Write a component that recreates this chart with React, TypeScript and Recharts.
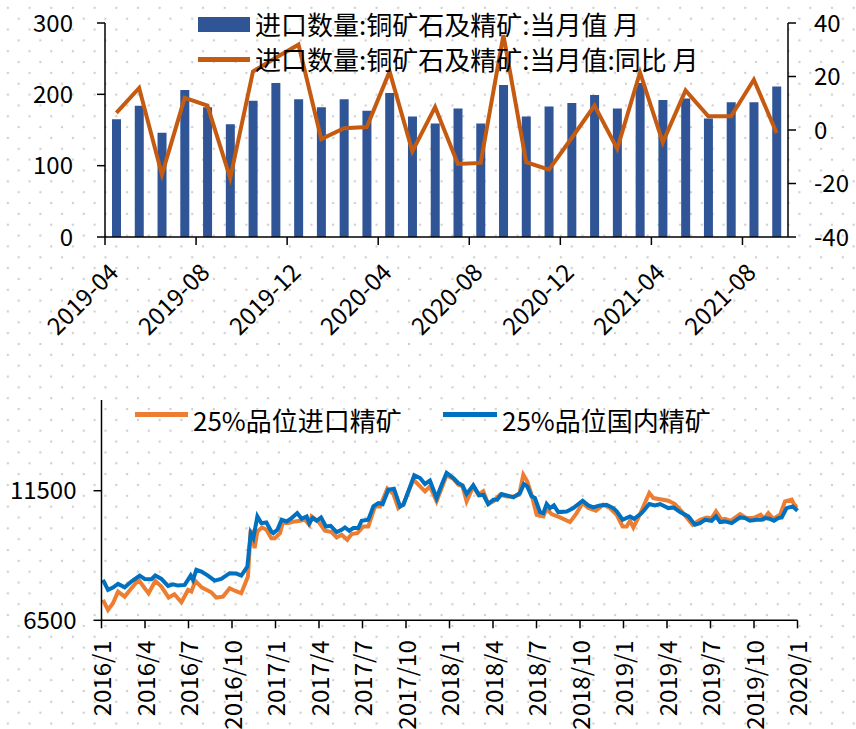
import React from 'react';
import { ComposedChart, LineChart, Bar, Line, XAxis, YAxis } from 'recharts';

const FONT = '"Noto Sans CJK SC", "Noto Sans", sans-serif';
const INK = '#000';
const BAR_BLUE = '#2F5597';
const YOY_ORANGE = '#C55A11';
const IMPORT_ORANGE = '#ED7D31';
const DOMESTIC_BLUE = '#0070C0';

// 上图：进口数量:铜矿石及精矿（万吨 / 同比 %）
const months = [
  '2019-04', '2019-05', '2019-06', '2019-07', '2019-08', '2019-09', '2019-10', '2019-11', '2019-12', '2020-01',
  '2020-02', '2020-03', '2020-04', '2020-05', '2020-06', '2020-07', '2020-08', '2020-09', '2020-10', '2020-11',
  '2020-12', '2021-01', '2021-02', '2021-03', '2021-04', '2021-05', '2021-06', '2021-07', '2021-08', '2021-09',
];
const importVolume = [
  165, 184, 146, 206, 182, 158, 191, 216, 193, 182,
  193, 177, 202, 169, 159, 180, 159, 213, 169, 183,
  188, 199, 180, 216, 192, 194, 166, 189, 189, 211,
];
const importYoY = [
  6.4, 15.7, -16.7, 12, 9.1, -18, 21.9, 27, 31.9, -3.4,
  0.7, 1.1, 21.9, -8, 8.6, -12.7, -12.3, 35.5, -12, -14.8,
  -3, 9.1, -7, 21.5, -4.6, 14.8, 5.1, 5.1, 18.8, -1.1,
];
const monthTicks = [0, 4, 8, 12, 16, 20, 24, 28];

const topData = months.map((m, i) => ({
  x: i + 0.5,
  month: m,
  volume: importVolume[i],
  yoy: importYoY[i],
}));

// 下图：25%品位铜精矿价格，横轴为距 2016/1 的月数
const quarterLabels = [
  '2016/1', '2016/4', '2016/7', '2016/10', '2017/1', '2017/4', '2017/7', '2017/10', '2018/1',
  '2018/4', '2018/7', '2018/10', '2019/1', '2019/4', '2019/7', '2019/10', '2020/1',
];

const importMonth = [
  0.10, 0.45, 0.79, 1.14, 1.60, 2.06, 2.56, 2.98, 3.25, 3.71,
  4.13, 4.63, 5.03, 5.51, 5.97, 6.20, 6.47, 6.93, 7.57, 7.92,
  8.38, 8.84, 9.23, 9.64, 10.10, 10.29, 10.56, 10.75, 11.07, 11.37,
  11.71, 11.96, 12.31, 12.49, 12.88, 13.34, 13.69, 14.03, 14.33, 14.49,
  14.95, 15.41, 15.87, 16.22, 16.56, 16.95, 17.25, 17.64, 18.06, 18.40,
  18.86, 19.21, 19.71, 20.13, 20.47, 20.82, 21.51, 21.85, 22.31, 22.65,
  23.11, 23.80, 24.26, 24.60, 24.90, 25.18, 25.64, 25.98, 26.33, 26.67,
  27.02, 27.48, 27.94, 28.44, 28.81, 29.09, 29.36, 29.66, 30.01, 30.47,
  30.70, 31.04, 31.62, 32.31, 32.77, 33.18, 33.57, 34.10, 34.60, 35.06,
  35.53, 35.94, 36.22, 36.45, 36.68, 37.14, 37.78, 38.06, 39.09, 39.55,
  40.01, 40.77, 41.28, 41.74, 42.08, 42.38, 42.77, 43.00, 43.39, 44.04,
  44.50, 44.96, 45.46, 45.69, 45.99, 46.34, 46.80, 47.14, 47.60, 47.83,
  48.0,
];
const importPrice = [
  7285, 6899, 7157, 7608, 7414, 7737, 8059, 7737, 7543, 8020,
  7801, 7376, 7505, 7196, 7672, 7608, 8020, 7762, 7582, 7376,
  7414, 7737, 7633, 7543, 8188, 9992, 9283, 9928, 10083, 9992,
  9670, 9670, 9864, 10250, 10250, 10315, 10340, 10379, 10186, 10508,
  10315, 9954, 9902, 9696, 9799, 9606, 9825, 9864, 10121, 10121,
  10894, 10894, 11578, 11372, 10830, 10985, 11926, 11733, 11475, 11668,
  11088, 12093, 11965, 11733, 11668, 11088, 11668, 11346, 11475, 10985,
  11088, 11346, 11281, 11281, 11346, 12119, 11862, 11346, 10572, 10508,
  10805, 10598, 10469, 10289, 10637, 11024, 10830, 10727, 10959, 10830,
  10572, 10121, 10121, 10340, 10083, 10598, 11410, 11217, 11114, 10985,
  10701, 10186, 10379, 10469, 10443, 10701, 10379, 10418, 10340, 10598,
  10443, 10443, 10572, 10418, 10637, 10418, 10572, 11088, 11153, 10895,
  10933,
];

const domesticMonth = [
  0.10, 0.45, 0.79, 1.14, 1.60, 2.06, 2.63, 2.98, 3.44, 3.71,
  4.13, 4.59, 4.93, 5.28, 5.74, 6.15, 6.31, 6.54, 6.89, 7.34,
  7.80, 8.26, 8.84, 9.30, 9.64, 10.06, 10.29, 10.47, 10.75, 11.02,
  11.37, 11.71, 11.85, 12.13, 12.42, 12.77, 13.11, 13.50, 13.80, 14.15,
  14.33, 14.56, 14.84, 15.14, 15.48, 15.80, 16.22, 16.56, 16.79, 17.09,
  17.37, 17.71, 17.94, 18.40, 18.75, 19.09, 19.39, 19.78, 20.17, 20.59,
  20.82, 21.16, 21.57, 21.97, 22.31, 22.65, 23.11, 23.46, 23.80, 24.26,
  24.60, 24.90, 25.18, 25.64, 26.05, 26.33, 26.67, 27.02, 27.29, 27.59,
  27.94, 28.40, 28.86, 29.13, 29.36, 29.66, 29.89, 30.24, 30.47, 30.70,
  30.93, 31.20, 31.50, 32.08, 32.54, 33.18, 33.57, 33.91, 34.37, 34.83,
  35.29, 35.53, 35.94, 36.45, 36.73, 37.25, 37.78, 38.17, 38.52, 39.09,
  39.44, 39.90, 40.47, 40.93, 41.28, 41.62, 42.08, 42.38, 42.66, 43.00,
  43.46, 44.04, 44.38, 44.72, 45.18, 45.53, 45.76, 46.06, 46.38, 46.68,
  46.91, 47.25, 47.67, 48.0,
];
const domesticPrice = [
  8059, 7672, 7762, 7904, 7775, 7994, 8226, 8097, 8085, 8226,
  8097, 7826, 7891, 7840, 7865, 8226, 8059, 8446, 8381, 8226,
  8033, 8097, 8317, 8304, 8226, 8575, 9864, 9670, 10508, 10250,
  10276, 9928, 9864, 9992, 10379, 10315, 10443, 10637, 10418, 10508,
  10250, 10443, 10340, 10469, 10121, 10147, 9902, 9992, 10083, 9954,
  10057, 10057, 10340, 10379, 10894, 11024, 10985, 11539, 11578, 10894,
  10959, 11475, 12093, 11990, 11758, 11887, 11217, 11733, 12184, 11990,
  11797, 11707, 11372, 11707, 11320, 11346, 10985, 11153, 11153, 11372,
  11320, 11243, 11410, 11758, 11668, 11281, 11217, 10676, 10637, 10985,
  10830, 10933, 10676, 10701, 10830, 11114, 10933, 10856, 10933, 10959,
  10830, 10701, 10379, 10508, 10418, 10637, 10985, 10933, 10985, 10830,
  10856, 10676, 10508, 10186, 10250, 10379, 10340, 10508, 10289, 10315,
  10250, 10469, 10443, 10340, 10379, 10379, 10443, 10418, 10340, 10443,
  10469, 10830, 10895, 10727,
];

const importSeries = importMonth.map((m, i) => ({ m, v: importPrice[i] }));
const domesticSeries = domesticMonth.map((m, i) => ({ m, v: domesticPrice[i] }));

const axisLine = { stroke: INK, strokeWidth: 1.5 };
const tickStyle = { fontSize: 24, fill: INK, fontFamily: FONT };

function MonthTick({ x, y, payload }: any) {
  const ax = x + 15;
  const ay = y + 27;
  return (
    <text x={ax} y={ay} transform={`rotate(-45 ${ax} ${ay})`} textAnchor="end"
      fontSize={24} fontFamily={FONT} fill={INK}>
      {months[payload.value]}
    </text>
  );
}

function QuarterTick({ x, y, payload }: any) {
  const ax = x + 10;
  const ay = y + 10;
  return (
    <text x={ax} y={ay} transform={`rotate(-90 ${ax} ${ay})`} textAnchor="end"
      fontSize={24} fontFamily={FONT} fill={INK}>
      {quarterLabels[Math.round(payload.value / 3)]}
    </text>
  );
}

const legendText: React.CSSProperties = {
  position: 'absolute',
  fontSize: 26,
  lineHeight: '30px',
  whiteSpace: 'nowrap',
  color: INK,
  fontFamily: FONT,
};

export default function App() {
  return (
    <div
      style={{
        position: 'fixed',
        left: 0,
        top: 0,
        width: 856,
        height: 729,
        overflow: 'hidden',
        backgroundColor: '#fff',
        backgroundImage:
          'radial-gradient(circle, #cfcfcf 1px, transparent 1.6px), radial-gradient(circle, #cfcfcf 1px, transparent 1.6px)',
        backgroundSize: '21.7px 21.7px',
        backgroundPosition: '-3px -3px, 7.85px 7.85px',
        fontFamily: FONT,
      }}
    >
      <div style={{ position: 'absolute', left: 0, top: 0 }}>
        <ComposedChart width={856} height={340} data={topData} margin={{ top: 23, right: 0, left: 0, bottom: 0 }}>
          <XAxis
            dataKey="x"
            type="number"
            domain={[0, 30]}
            ticks={monthTicks}
            interval={0}
            height={103}
            tickSize={8}
            axisLine={axisLine}
            tickLine={axisLine}
            tick={<MonthTick />}
          />
          <YAxis
            yAxisId="left"
            domain={[0, 300]}
            ticks={[0, 100, 200, 300]}
            width={105}
            tickSize={8}
            tickMargin={24}
            axisLine={axisLine}
            tickLine={axisLine}
            tick={tickStyle}
          />
          <YAxis
            yAxisId="right"
            orientation="right"
            domain={[-40, 40]}
            ticks={[-40, -20, 0, 20, 40]}
            width={68}
            tickSize={8}
            tickMargin={18}
            axisLine={axisLine}
            tickLine={axisLine}
            tick={{ ...tickStyle, textAnchor: 'start' }}
          />
          <Bar yAxisId="left" dataKey="volume" fill={BAR_BLUE} barSize={9} isAnimationActive={false} />
          <Line
            yAxisId="right"
            type="linear"
            dataKey="yoy"
            stroke={YOY_ORANGE}
            strokeWidth={4}
            dot={false}
            isAnimationActive={false}
          />
        </ComposedChart>
      </div>

      <div style={{ position: 'absolute', left: 198, top: 17, width: 52, height: 15, background: BAR_BLUE }} />
      <div style={{ ...legendText, left: 255, top: 9 }}>进口数量:铜矿石及精矿:当月值 月</div>
      <div style={{ position: 'absolute', left: 198, top: 57, width: 52, height: 5, background: YOY_ORANGE }} />
      <div style={{ ...legendText, left: 255, top: 44 }}>进口数量:铜矿石及精矿:当月值:同比 月</div>

      <div style={{ position: 'absolute', left: 0, top: 370 }}>
        <LineChart width={856} height={359} margin={{ top: 30, right: 58.5, left: 0, bottom: 0 }}>
          <XAxis
            dataKey="m"
            type="number"
            domain={[0, 48]}
            ticks={quarterLabels.map((_, i) => i * 3)}
            interval={0}
            height={108.7}
            tickSize={8}
            axisLine={axisLine}
            tickLine={axisLine}
            tick={<QuarterTick />}
          />
          <YAxis
            domain={[6500, 15000]}
            ticks={[6500, 11500]}
            width={101.5}
            tickSize={8}
            tickMargin={17}
            axisLine={axisLine}
            tickLine={axisLine}
            tick={tickStyle}
          />
          <Line
            data={importSeries}
            dataKey="v"
            type="linear"
            stroke={IMPORT_ORANGE}
            strokeWidth={4}
            dot={false}
            isAnimationActive={false}
          />
          <Line
            data={domesticSeries}
            dataKey="v"
            type="linear"
            stroke={DOMESTIC_BLUE}
            strokeWidth={4}
            dot={false}
            isAnimationActive={false}
          />
        </LineChart>
      </div>

      <div style={{ position: 'absolute', left: 135, top: 412, width: 53, height: 5, background: IMPORT_ORANGE }} />
      <div style={{ ...legendText, left: 193, top: 405 }}>25%品位进口精矿</div>
      <div style={{ position: 'absolute', left: 443, top: 412, width: 54, height: 5, background: DOMESTIC_BLUE }} />
      <div style={{ ...legendText, left: 502, top: 405 }}>25%品位国内精矿</div>
    </div>
  );
}
